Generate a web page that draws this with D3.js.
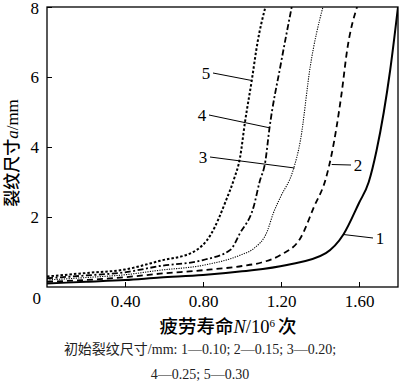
<!DOCTYPE html>
<html>
<head>
<meta charset="utf-8">
<script src="https://cdn.jsdelivr.net/npm/d3@7"></script>
<style>
  body { margin: 0; background: #fff; }
  svg { display: block; }
  .serif { font-family: "Liberation Serif", "DejaVu Serif", "Noto Sans CJK SC", serif; }
</style>
</head>
<body>
<svg id="chart" width="400" height="383"></svg>
<script>
// fatigue life N (10^6 cycles) vs crack size a (mm)
const curve1 = [[0,0.10],[0.2,0.15],[0.4,0.20],[0.58,0.27],[0.8,0.34],[1.0,0.45],[1.23,0.63],[1.43,0.97],[1.52,1.5],[1.6,2.4],[1.65,3.0],[1.69,3.9],[1.76,6.2],[1.8,8.0]];
const curve2 = [[0,0.15],[0.2,0.20],[0.4,0.28],[0.58,0.38],[0.8,0.48],[1.0,0.6],[1.1,0.7],[1.2,0.92],[1.3,1.4],[1.37,2.3],[1.43,3.1],[1.46,3.8],[1.51,5.5],[1.54,6.8],[1.59,8.0]];
const curve3 = [[0,0.20],[0.2,0.27],[0.4,0.35],[0.58,0.48],[0.8,0.62],[0.99,0.91],[1.06,1.1],[1.13,1.6],[1.16,2.1],[1.2,2.6],[1.26,3.3],[1.3,4.2],[1.35,6.3],[1.415,8.0]];
const curve4 = [[0,0.25],[0.2,0.33],[0.4,0.42],[0.58,0.6],[0.8,0.77],[0.94,1.06],[0.99,1.54],[1.06,2.3],[1.09,3.0],[1.12,3.6],[1.14,4.5],[1.2,6.4],[1.255,8.0]];
const curve5 = [[0,0.30],[0.2,0.40],[0.4,0.5],[0.58,0.75],[0.75,1.0],[0.84,1.5],[0.92,2.5],[0.96,3.1],[0.99,3.7],[1.015,4.7],[1.05,5.9],[1.08,7.0],[1.12,8.0]];

const xTicks = [0.40, 0.80, 1.20, 1.60];
const yTicks = [2, 4, 6, 8];

// label text and the point on the curve its leader line touches
const labels = [
  { text: "1", at: [1.52, 1.5], tx: 380, ty: 238 },
  { text: "2", at: [1.46, 3.5], tx: 358, ty: 165 },
  { text: "3", at: [1.27, 3.4], tx: 203, ty: 157 },
  { text: "4", at: [1.14, 4.55], tx: 202, ty: 115 },
  { text: "5", at: [1.05, 5.9], tx: 206, ty: 73 }
];

const note1 = "初始裂纹尺寸/mm: 1—0.10; 2—0.15; 3—0.20;";
const note2 = "4—0.25; 5—0.30";

const svg = d3.select("#chart");
const x = d3.scaleLinear().domain([0, 1.8]).range([47, 398]);
const y = d3.scaleLinear().domain([0, 8]).range([287, 7]);

// frame
svg.append("rect")
  .attr("x", x(0)).attr("y", y(8))
  .attr("width", x(1.8) - x(0)).attr("height", y(0) - y(8))
  .attr("fill", "none").attr("stroke", "#000").attr("stroke-width", 1.3);

// inward ticks
svg.append("g").attr("transform", `translate(0,${y(0)})`)
  .call(d3.axisBottom(x).tickValues(xTicks).tickSizeInner(-5).tickSizeOuter(0).tickFormat(d3.format(".2f")))
  .call(g => g.select(".domain").remove())
  .call(g => g.selectAll("text").attr("class", "serif").attr("font-size", 17).attr("dy", null).attr("y", 20).attr("fill", "#000"));

svg.append("g").attr("transform", `translate(${x(0)},0)`)
  .call(d3.axisLeft(y).tickValues(yTicks).tickSizeInner(-5).tickSizeOuter(0).tickFormat(d3.format("d")))
  .call(g => g.select(".domain").remove())
  .call(g => g.selectAll("text").attr("class", "serif").attr("font-size", 17).attr("x", -8).attr("fill", "#000")
    .attr("dy", d => d === 8 ? "0.75em" : "0.32em").attr("transform", d => d === 8 ? "translate(0,-6)" : null));

svg.append("text").attr("class", "serif")
  .attr("x", 41).attr("y", 304).attr("text-anchor", "end")
  .attr("font-size", 17).text("0");

// curves
const line = d3.line().x(d => x(d[0])).y(d => y(d[1])).curve(d3.curveMonotoneX);
const styles = [
  { data: curve1, w: 2.0, dash: null },
  { data: curve2, w: 1.8, dash: "6,4" },
  { data: curve3, w: 1.1, dash: "1.2,1.2" },
  { data: curve4, w: 1.8, dash: "6,2.5,2,2.5" },
  { data: curve5, w: 2.0, dash: "2.5,2" }
];
svg.append("clipPath").attr("id", "plotclip")
  .append("rect").attr("x", x(0)).attr("y", y(8)).attr("width", x(1.8) - x(0)).attr("height", y(0) - y(8));
svg.append("g").attr("clip-path", "url(#plotclip)")
  .selectAll("path").data(styles).join("path")
  .attr("d", d => line(d.data))
  .attr("fill", "none").attr("stroke", "#000")
  .attr("stroke-width", d => d.w)
  .attr("stroke-dasharray", d => d.dash);

// leader lines + numbers
labels.forEach(l => {
  const right = l.tx > x(l.at[0]);
  svg.append("line")
    .attr("x1", right ? l.tx - 7 : l.tx + 7).attr("y1", l.ty)
    .attr("x2", x(l.at[0])).attr("y2", y(l.at[1]))
    .attr("stroke", "#000").attr("stroke-width", 1);
  svg.append("text").attr("class", "serif")
    .attr("x", l.tx).attr("y", l.ty).attr("dy", "0.35em")
    .attr("text-anchor", "middle").attr("font-size", 17).text(l.text);
});

// axis titles
const xt = svg.append("text").attr("class", "serif")
  .attr("x", 228).attr("y", 333).attr("text-anchor", "middle")
  .attr("font-size", 18.5).attr("font-weight", 500);
xt.append("tspan").text("疲劳寿命");
xt.append("tspan").attr("font-style", "italic").text("N");
xt.append("tspan").text("/10");
xt.append("tspan").attr("font-size", 11).attr("baseline-shift", "super").text("6");
xt.append("tspan").attr("dx", 3).text("次");

const yt = svg.append("text").attr("class", "serif")
  .attr("transform", "translate(18,153) rotate(-90)")
  .attr("text-anchor", "middle").attr("font-size", 17).attr("font-weight", 500);
yt.append("tspan").text("裂纹尺寸");
yt.append("tspan").attr("font-style", "italic").text("a");
yt.append("tspan").text("/mm");

// note
svg.append("text").attr("class", "serif")
  .attr("x", 200).attr("y", 354).attr("text-anchor", "middle")
  .attr("font-size", 14).attr("fill", "#222").text(note1);
svg.append("text").attr("class", "serif")
  .attr("x", 200).attr("y", 379).attr("text-anchor", "middle")
  .attr("font-size", 14).attr("fill", "#222").text(note2);
</script>
</body>
</html>
